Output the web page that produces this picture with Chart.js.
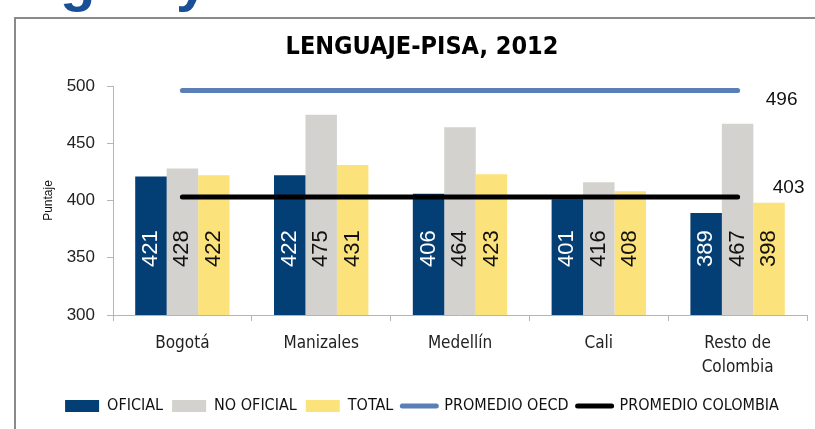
<!DOCTYPE html>
<html>
<head>
<meta charset="utf-8">
<script src="https://cdn.jsdelivr.net/npm/chart.js@4.4.1/dist/chart.umd.min.js"></script>
<style>
html, body { margin: 0; padding: 0; background: #fff; width: 815px; height: 429px; overflow: hidden; }
#marco { position: absolute; left: 14px; top: 17px; width: 820px; height: 430px; border-left: 2px solid #8a8a8a; border-top: 2px solid #8a8a8a; }
#caja { position: absolute; left: 16px; top: 19px; width: 799px; height: 410px; }
.logo { position: absolute; top: -54px; font: bold 58px 'Liberation Sans', sans-serif; color: #1a4f98; }
</style>
</head>
<body>
<div class="logo" style="left:60px">g</div>
<div class="logo" style="left:176px">y</div>
<div id="marco"></div>
<div id="caja"><canvas id="grafico"></canvas></div>
<script>
// datos
const categorias = ['Bogotá', 'Manizales', 'Medellín', 'Cali', ['Resto de', 'Colombia']];
const oficial = [421, 422, 406, 401, 389];
const noOficial = [428, 475, 464, 416, 467];
const total = [422, 431, 423, 408, 398];
const promedioOecd = [496, 496, 496, 496, 496];
const promedioColombia = [403, 403, 403, 403, 403];
const ticksY = [300, 350, 400, 450, 500];

const fuente = "'Liberation Sans', 'DejaVu Sans', sans-serif";
const fuenteAngosta = "'Liberation Sans Narrow', 'DejaVu Sans Condensed', sans-serif";

// etiquetas de valores dentro de las barras y al final de las líneas
const etiquetas = {
    id: 'etiquetas',
    afterDatasetsDraw(chart, args, opts) {
        const ctx = chart.ctx;
        const yEtiqueta = chart.scales.y.getPixelForValue(opts.nivel);
        ctx.save();
        ctx.textAlign = 'center';
        ctx.textBaseline = 'middle';
        chart.data.datasets.forEach((ds, i) => {
            const meta = chart.getDatasetMeta(i);
            if (ds.type === 'line') {
                const p = meta.data[meta.data.length - 1];
                ctx.font = '19px ' + fuente;
                ctx.fillStyle = '#111';
                ctx.fillText(ds.data[ds.data.length - 1], p.x + ds.dx, p.y + ds.dy);
            } else {
                ctx.font = '22px ' + fuente;
                meta.data.forEach((bar, j) => {
                    ctx.save();
                    ctx.translate(bar.x, yEtiqueta);
                    ctx.rotate(-Math.PI / 2);
                    ctx.fillStyle = ds.colorTexto;
                    ctx.fillText(ds.data[j], 0, 0);
                    ctx.restore();
                });
            }
        });
        ctx.restore();
    }
};

const ctx = document.getElementById('grafico').getContext('2d');
new Chart(ctx, {
    type: 'bar',
    data: {
        labels: categorias,
        datasets: [
            { label: 'OFICIAL', data: oficial, backgroundColor: '#033e74', colorTexto: '#fff', order: 1 },
            { label: 'NO OFICIAL', data: noOficial, backgroundColor: '#d4d2ce', colorTexto: '#111', order: 1 },
            { label: 'TOTAL', data: total, backgroundColor: '#fbe27b', colorTexto: '#111', order: 1 },
            { type: 'line', label: 'PROMEDIO OECD', data: promedioOecd, borderColor: '#5a7fb6',
              borderWidth: 5, borderCapStyle: 'round', pointRadius: 0, order: 0, dx: 44, dy: 9 },
            { type: 'line', label: 'PROMEDIO COLOMBIA', data: promedioColombia, borderColor: '#000',
              borderWidth: 5, borderCapStyle: 'round', pointRadius: 0, order: 0, dx: 51, dy: -9 }
        ]
    },
    options: {
        responsive: true,
        maintainAspectRatio: false,
        animation: false,
        datasets: { bar: { categoryPercentage: 0.68, barPercentage: 1, borderWidth: 0 } },
        layout: { padding: { left: 21, right: 8, top: 0, bottom: 5 } },
        scales: {
            x: {
                grid: { drawOnChartArea: false, tickLength: 6, color: '#b5b5b5' },
                border: { color: '#b5b5b5' },
                ticks: { color: '#222', padding: 10, font: { family: fuenteAngosta, size: 17, lineHeight: 1.45 } },
                afterFit: s => { s.height = 74; }
            },
            y: {
                min: 300, max: 500,
                afterBuildTicks: s => { s.ticks = ticksY.map(v => ({ value: v })); },
                grid: { drawOnChartArea: false, tickLength: 6, color: '#b5b5b5' },
                border: { color: '#b5b5b5' },
                ticks: { color: '#222', padding: 12, font: { family: fuente, size: 17 } },
                title: { display: true, text: 'Puntaje', color: '#111', font: { family: fuente, size: 12 } },
                afterFit: s => { s.width = 76; }
            }
        },
        plugins: {
            etiquetas: { nivel: 358 },
            title: {
                display: true,
                text: 'LENGUAJE-PISA, 2012',
                color: '#000',
                font: { family: fuenteAngosta, size: 25, weight: 'bold' },
                padding: { top: 13, bottom: 24 }
            },
            legend: {
                position: 'bottom',
                labels: {
                    color: '#111',
                    font: { family: fuenteAngosta, size: 16 },
                    usePointStyle: true,
                    pointStyleWidth: 34,
                    boxHeight: 12,
                    padding: 9,
                    sort: (a, b) => a.datasetIndex - b.datasetIndex,
                    generateLabels(chart) {
                        const items = Chart.defaults.plugins.legend.labels.generateLabels(chart);
                        items.forEach(it => {
                            const ds = chart.data.datasets[it.datasetIndex];
                            if (ds.type === 'line') {
                                it.pointStyle = 'line';
                                it.lineWidth = 5;
                                it.strokeStyle = ds.borderColor;
                                it.lineCap = 'round';
                            } else {
                                it.pointStyle = 'rect';
                                it.lineWidth = 0;
                                it.strokeStyle = ds.backgroundColor;
                            }
                        });
                        return items;
                    }
                }
            },
            tooltip: { enabled: false }
        }
    },
    plugins: [etiquetas]
});
</script>
</body>
</html>
